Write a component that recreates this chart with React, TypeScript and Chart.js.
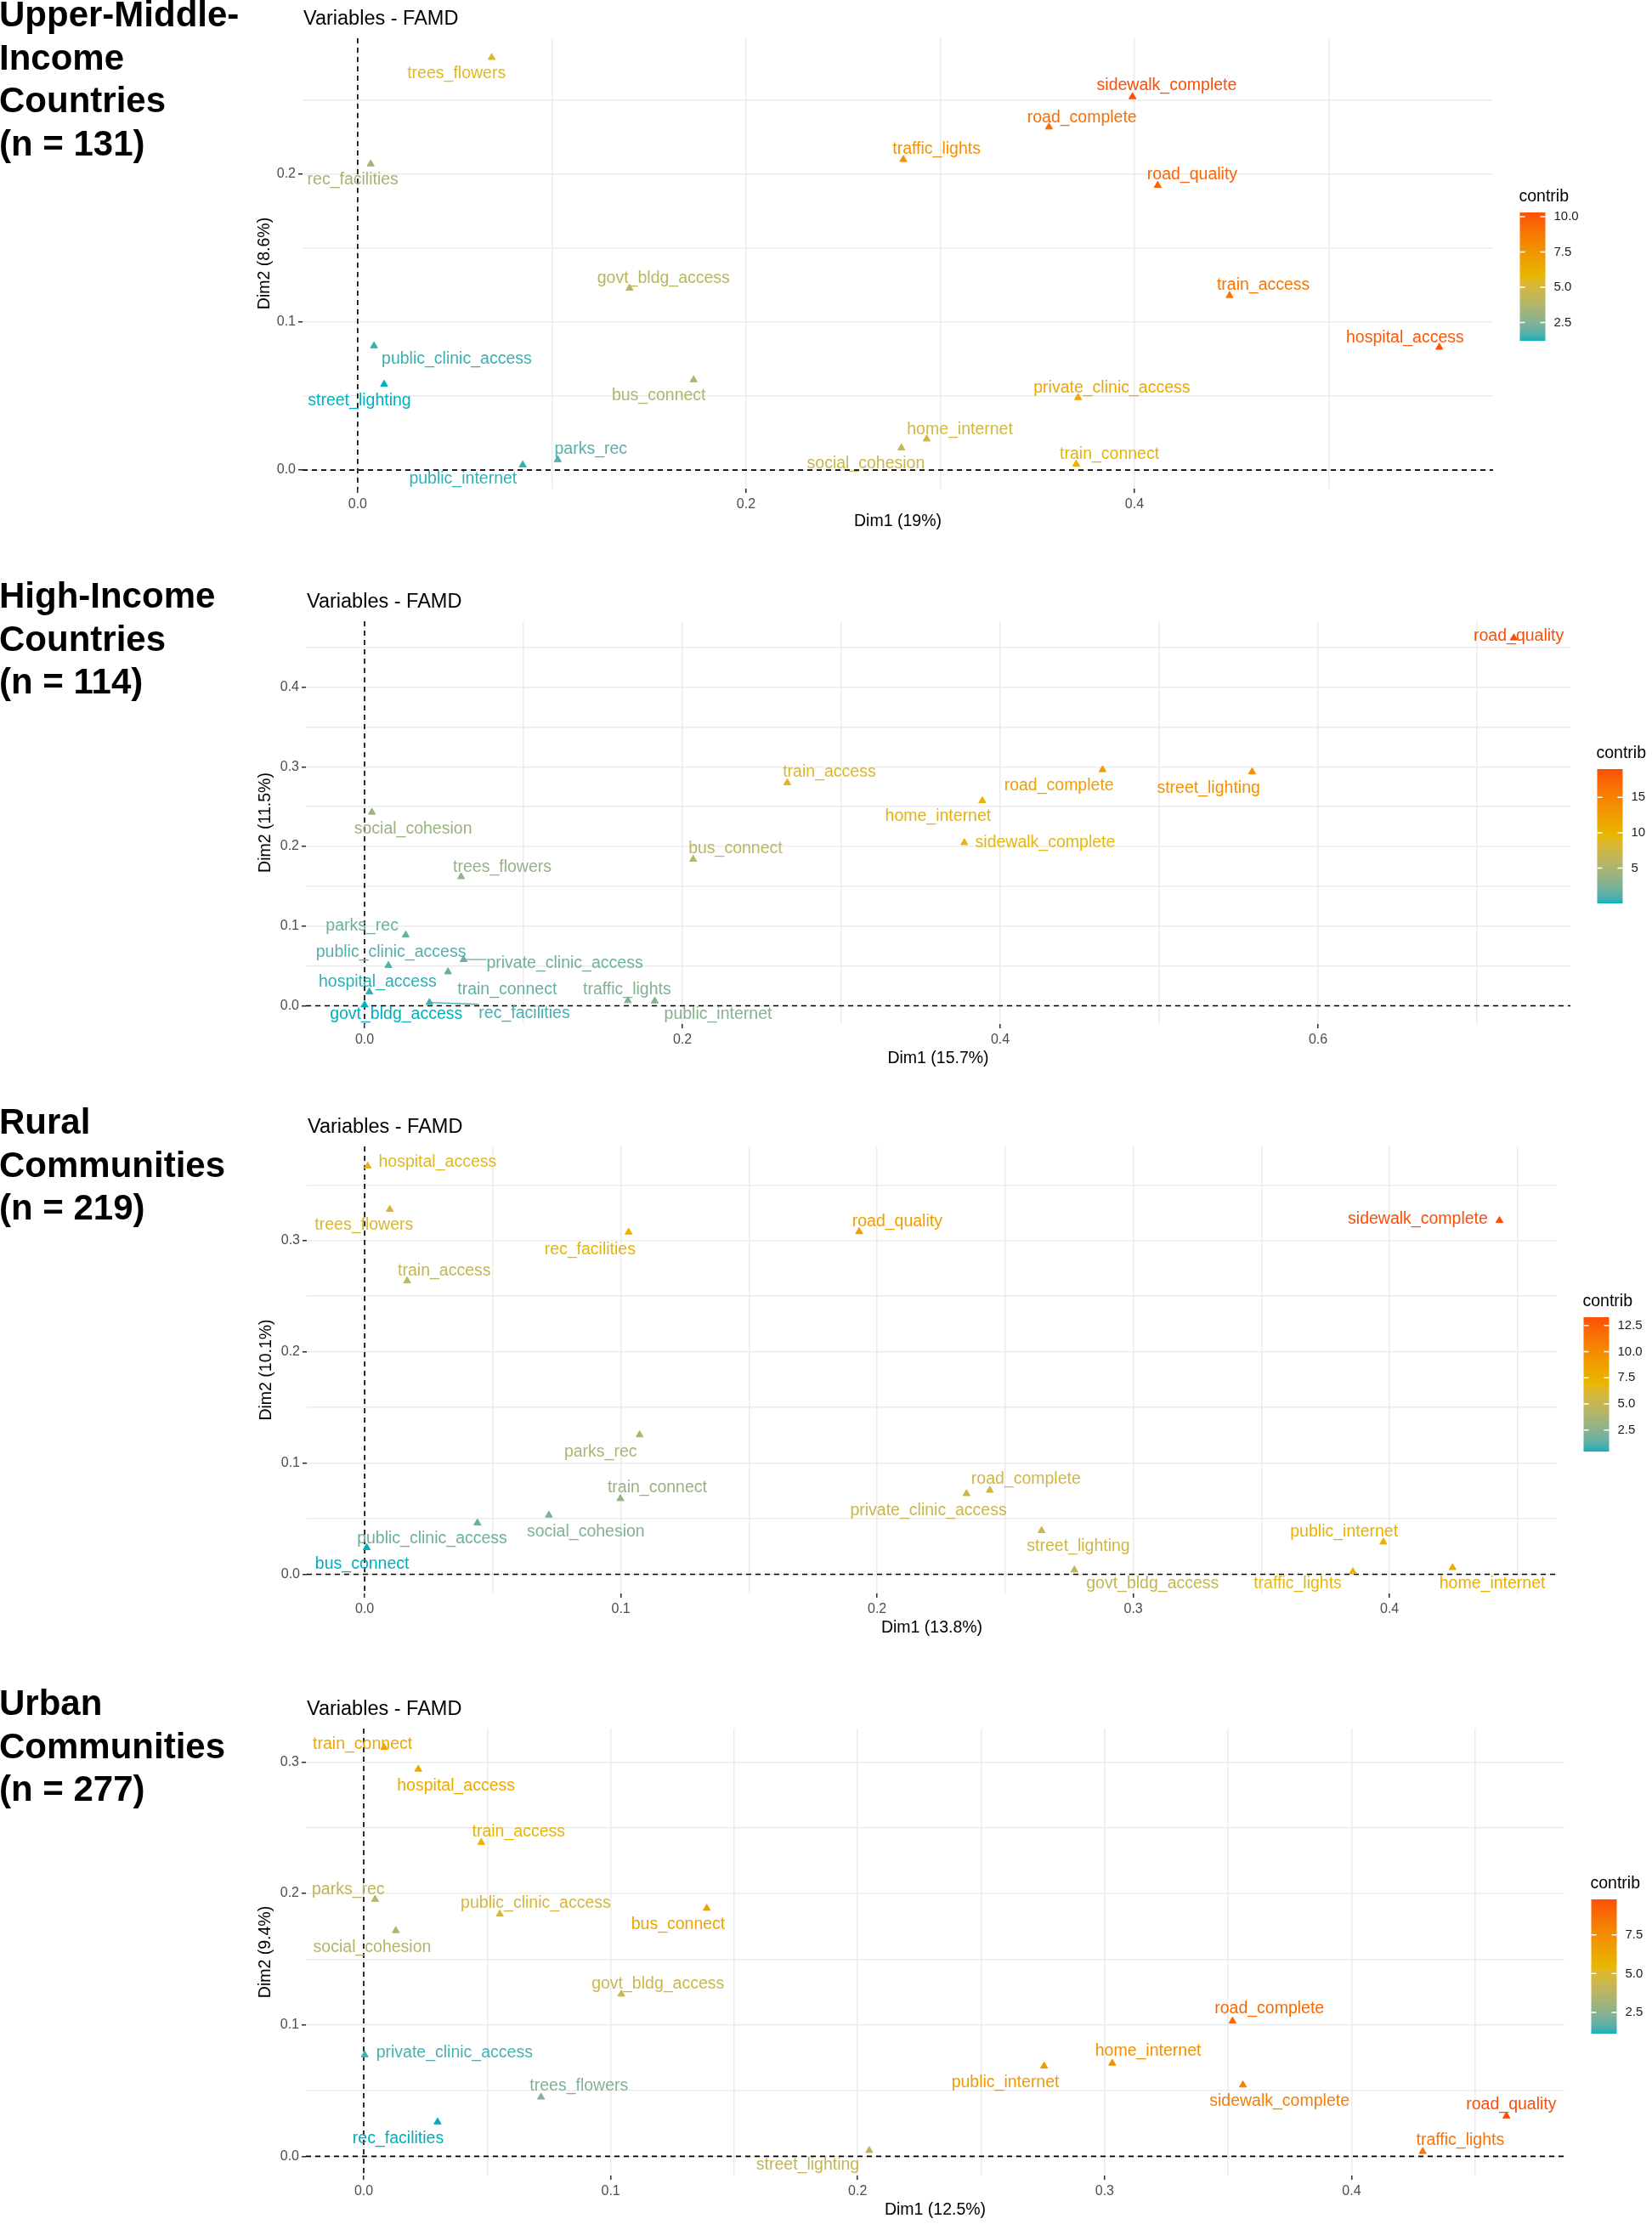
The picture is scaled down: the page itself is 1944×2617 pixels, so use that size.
import React, { useEffect, useRef } from 'react';
import { Chart, registerables } from 'chart.js';

Chart.register(...registerables);

const FONT = '"Liberation Sans", Arial, Helvetica, sans-serif';
Chart.defaults.font.family = FONT;
const GRADIENT_COLS = ['#00AFBB', '#E7B800', '#FC4E07'];

// ---------- Panel 1: Upper-Middle-Income Countries ----------
const umicTitle = ['Upper-Middle-', 'Income', 'Countries', '(n = 131)'];
const umicVars = ['trees_flowers', 'rec_facilities', 'govt_bldg_access', 'public_clinic_access', 'street_lighting', 'bus_connect', 'parks_rec', 'public_internet', 'social_cohesion', 'sidewalk_complete', 'road_complete', 'traffic_lights', 'road_quality', 'train_access', 'hospital_access', 'private_clinic_access', 'home_internet', 'train_connect'];
const umicDim1 = [0.069, 0.0067, 0.14, 0.0084, 0.0136, 0.173, 0.103, 0.085, 0.28, 0.399, 0.356, 0.281, 0.412, 0.449, 0.557, 0.371, 0.293, 0.37];
const umicDim2 = [0.279, 0.207, 0.123, 0.084, 0.058, 0.061, 0.007, 0.0035, 0.015, 0.2525, 0.232, 0.21, 0.1925, 0.118, 0.083, 0.049, 0.021, 0.004];
const umicContrib = [5.5, 3.35, 4.1, 1.45, 1.2, 3.7, 1.75, 1.4, 4.6, 10.3, 9.2, 7.7, 9.5, 8.9, 10.0, 6.6, 4.9, 5.9];
const umicXTicks = [0, 0.2, 0.4];
const umicYTicks = [0, 0.1, 0.2];
const umicXGrid = [0, 0.1, 0.2, 0.3, 0.4, 0.5];
const umicYGrid = [0, 0.05, 0.1, 0.15, 0.2, 0.25];
const umicLegendTicks = [2.5, 5.0, 7.5, 10.0];
const umicLabelDx = [-41.4, -21, 40, 97.3, -29, -41, 39, -70.3, -41.8, 40.3, 38.8, 39.1, 40.6, 39.7, -40.3, 39.7, 39.1, 39.2];
const umicLabelDy = [19.2, 19.2, -11, 15.5, 19.6, 18.4, -12.2, 17.1, 18.3, -13, -11, -12.2, -12.2, -12.2, -11, -11.4, -11.4, -11.4];

// ---------- Panel 2: High-Income Countries ----------
const hicTitle = ['High-Income', 'Countries', '(n = 114)'];
const hicVars = ['social_cohesion', 'trees_flowers', 'bus_connect', 'train_access', 'parks_rec', 'public_clinic_access', 'private_clinic_access', 'train_connect', 'hospital_access', 'govt_bldg_access', 'rec_facilities', 'traffic_lights', 'public_internet', 'home_internet', 'road_complete', 'street_lighting', 'sidewalk_complete', 'road_quality'];
const hicDim1 = [0.0046, 0.0607, 0.2068, 0.266, 0.0259, 0.015, 0.0623, 0.0525, 0.003, 0.0, 0.0408, 0.1657, 0.1826, 0.3887, 0.4644, 0.5585, 0.3774, 0.7232];
const hicDim2 = [0.243, 0.162, 0.184, 0.28, 0.0888, 0.0506, 0.058, 0.0426, 0.0173, 0.001, 0.004, 0.0064, 0.006, 0.2574, 0.2964, 0.2936, 0.2048, 0.4618];
const hicContrib = [4.0, 3.6, 6.2, 8.7, 1.8, 1.05, 1.9, 1.5, 0.33, 0.02, 0.72, 2.75, 3.0, 10.3, 12.2, 13.6, 9.3, 19.0];
const hicXTicks = [0, 0.2, 0.4, 0.6];
const hicYTicks = [0, 0.1, 0.2, 0.3, 0.4];
const hicXGrid = [0, 0.1, 0.2, 0.3, 0.4, 0.5, 0.6, 0.7];
const hicYGrid = [0, 0.05, 0.1, 0.15, 0.2, 0.25, 0.3, 0.35, 0.4, 0.45];
const hicLegendTicks = [5, 10, 15];
const hicLabelDx = [48.5, 48.5, 49.7, 49.5, -51.3, 3, 119, 69.6, 9.7, 37.2, 111.7, -1, 74.5, -52, -51.3, -51.3, 95.2, 5.7];
const hicLabelDy = [19.6, -11.3, -12, -12.4, -10.9, -15, 4.5, 20.7, -11.3, 11.3, 12.8, -13.2, 15.8, 18.8, 19.2, 19.2, 0, -1.9];

// ---------- Panel 3: Rural Communities ----------
const ruralTitle = ['Rural', 'Communities', '(n = 219)'];
const ruralVars = ['hospital_access', 'trees_flowers', 'rec_facilities', 'train_access', 'road_quality', 'parks_rec', 'train_connect', 'social_cohesion', 'public_clinic_access', 'bus_connect', 'sidewalk_complete', 'road_complete', 'private_clinic_access', 'street_lighting', 'govt_bldg_access', 'traffic_lights', 'public_internet', 'home_internet'];
const ruralDim1 = [0.0012, 0.0098, 0.103, 0.0166, 0.193, 0.1073, 0.0998, 0.0719, 0.044, 0.0008, 0.4429, 0.244, 0.2349, 0.2642, 0.277, 0.3857, 0.3976, 0.4246];
const ruralDim2 = [0.367, 0.328, 0.3076, 0.2637, 0.308, 0.1254, 0.068, 0.0532, 0.0462, 0.024, 0.318, 0.0755, 0.0725, 0.0393, 0.0039, 0.0024, 0.029, 0.006];
const ruralContrib = [6.4, 5.9, 7.1, 4.9, 8.7, 4.0, 2.9, 2.2, 1.6, 0.44, 13.3, 5.55, 5.3, 5.3, 4.9, 6.7, 7.4, 7.5];
const ruralXTicks = [0, 0.1, 0.2, 0.3, 0.4];
const ruralYTicks = [0, 0.1, 0.2, 0.3];
const ruralXGrid = [0, 0.05, 0.1, 0.15, 0.2, 0.25, 0.3, 0.35, 0.4, 0.45];
const ruralYGrid = [0, 0.05, 0.1, 0.15, 0.2, 0.25, 0.3, 0.35];
const ruralLegendTicks = [2.5, 5.0, 7.5, 10.0, 12.5];
const ruralLabelDx = [82.1, -30.4, -45.4, 43.6, 44.8, -45.9, 43.4, 43.4, -53.3, -5.4, -96, 42.5, -44.8, 43.3, 92, -65, -46.2, 46.8];
const ruralLabelDy = [-4.3, 19, 20.6, -11.9, -11.9, 20.6, -13, 20.2, 18.6, 19.8, -1.2, -13, 20.5, 18.6, 15.8, 13.8, -11.5, 18.6];

// ---------- Panel 4: Urban Communities ----------
const urbanTitle = ['Urban', 'Communities', '(n = 277)'];
const urbanVars = ['train_connect', 'hospital_access', 'train_access', 'parks_rec', 'public_clinic_access', 'bus_connect', 'social_cohesion', 'govt_bldg_access', 'private_clinic_access', 'trees_flowers', 'rec_facilities', 'street_lighting', 'road_complete', 'home_internet', 'public_internet', 'sidewalk_complete', 'road_quality', 'traffic_lights'];
const urbanDim1 = [0.0083, 0.0221, 0.0476, 0.0046, 0.0551, 0.1389, 0.013, 0.1043, 0.0004, 0.0718, 0.0299, 0.2047, 0.3518, 0.3031, 0.2755, 0.356, 0.4627, 0.4288];
const urbanDim2 = [0.311, 0.2945, 0.2388, 0.1955, 0.1843, 0.1887, 0.1717, 0.1234, 0.0772, 0.0451, 0.0262, 0.0045, 0.1029, 0.0709, 0.0688, 0.0543, 0.0307, 0.0037];
const urbanContrib = [6.3, 6.2, 5.65, 3.95, 4.7, 6.5, 3.6, 4.5, 1.5, 2.3, 1.12, 4.1, 9.0, 7.4, 6.8, 8.1, 9.8, 8.5];
const urbanXTicks = [0, 0.1, 0.2, 0.3, 0.4];
const urbanYTicks = [0, 0.1, 0.2, 0.3];
const urbanXGrid = [0, 0.05, 0.1, 0.15, 0.2, 0.25, 0.3, 0.35, 0.4, 0.45];
const urbanYGrid = [0, 0.05, 0.1, 0.15, 0.2, 0.25, 0.3];
const urbanLegendTicks = [2.5, 5.0, 7.5];
const urbanLabelDx = [-25.5, 44.4, 43.9, -31.6, 42.3, -33.7, -27.8, 43.1, 105.6, 44.6, -46.4, -72.4, 43.3, 42.2, -45.6, 43, 5.7, 44.2];
const urbanLabelDy = [-3.7, 20.3, -12.6, -11.8, -12.2, 19.1, 20.3, -12.2, -2.4, -13.4, 19.5, 17.1, -14.2, -13.8, 19.5, 19.5, -13, -12.6];

// ---------- colour helpers (Lab interpolation like ggplot2) ----------
function hexToRgb(hex: string): number[] {
  const n = parseInt(hex.slice(1), 16);
  return [(n >> 16) & 255, (n >> 8) & 255, n & 255];
}
function toLin(c: number) {
  const v = c / 255;
  return v <= 0.04045 ? v / 12.92 : Math.pow((v + 0.055) / 1.055, 2.4);
}
function fromLin(c: number) {
  const v = c <= 0.0031308 ? 12.92 * c : 1.055 * Math.pow(Math.max(c, 0), 1 / 2.4) - 0.055;
  return Math.round(Math.min(1, Math.max(0, v)) * 255);
}
function rgbToLab(rgb: number[]) {
  const [r, g, b] = rgb.map(toLin);
  const X = (0.4124 * r + 0.3576 * g + 0.1805 * b) / 0.95047;
  const Y = 0.2126 * r + 0.7152 * g + 0.0722 * b;
  const Z = (0.0193 * r + 0.1192 * g + 0.9505 * b) / 1.08883;
  const f = (t: number) => (t > 216 / 24389 ? Math.cbrt(t) : (24389 / 27 * t + 16) / 116);
  const fx = f(X), fy = f(Y), fz = f(Z);
  return [116 * fy - 16, 500 * (fx - fy), 200 * (fy - fz)];
}
function labToRgb(lab: number[]) {
  const [L, a, b] = lab;
  const fy = (L + 16) / 116, fx = fy + a / 500, fz = fy - b / 200;
  const finv = (t: number) => (t * t * t > 216 / 24389 ? t * t * t : (116 * t - 16) / (24389 / 27));
  const X = finv(fx) * 0.95047, Y = finv(fy), Z = finv(fz) * 1.08883;
  const r = 3.2406 * X - 1.5372 * Y - 0.4986 * Z;
  const g = -0.9689 * X + 1.8758 * Y + 0.0415 * Z;
  const bb = 0.0557 * X - 0.204 * Y + 1.057 * Z;
  return [fromLin(r), fromLin(g), fromLin(bb)];
}
const LABS = GRADIENT_COLS.map((h) => rgbToLab(hexToRgb(h)));
function gradColor(t: number) {
  const tt = Math.min(1, Math.max(0, t));
  const seg = tt <= 0.5 ? 0 : 1;
  const lt = (tt - seg * 0.5) / 0.5;
  const A = LABS[seg], B = LABS[seg + 1];
  const lab = [0, 1, 2].map((i) => A[i] + (B[i] - A[i]) * lt);
  const [r, g, b] = labToRgb(lab);
  return `rgb(${r},${g},${b})`;
}

type Geom = {
  canvasTop: number; canvasH: number; plotLeft: number; plotRight: number;
  plotTop: number; plotBottom: number; xTitleY: number; yTitleX: number;
  barH: number; barOffset: number;
};
type PanelSpec = {
  vars: string[]; dim1: number[]; dim2: number[]; contrib: number[];
  labelDx: number[]; labelDy: number[];
  xLimits: number[]; yLimits: number[];
  xGrid: number[]; yGrid: number[]; xTicks: number[]; yTicks: number[];
  xTitle: string; yTitle: string; legendTicks: number[]; legendDecimals: number;
  geom: Geom;
};

const PAGE_W = 1944;
const LABEL_SIZE = 19.5;
const SEGMENT_MIN = 20;

const panels: PanelSpec[] = [
  {
    vars: umicVars, dim1: umicDim1, dim2: umicDim2, contrib: umicContrib,
    labelDx: umicLabelDx, labelDy: umicLabelDy,
    xLimits: [-0.0284, 0.5847], yLimits: [-0.0126, 0.292],
    xGrid: umicXGrid, yGrid: umicYGrid, xTicks: umicXTicks, yTicks: umicYTicks,
    xTitle: 'Dim1 (19%)', yTitle: 'Dim2 (8.6%)', legendTicks: umicLegendTicks, legendDecimals: 1,
    geom: { canvasTop: 0, canvasH: 650, plotLeft: 356, plotRight: 1757, plotTop: 45, plotBottom: 575, xTitleY: 614, yTitleX: 312, barH: 151, barOffset: 60 },
  },
  {
    vars: hicVars, dim1: hicDim1, dim2: hicDim2, contrib: hicContrib,
    labelDx: hicLabelDx, labelDy: hicLabelDy,
    xLimits: [-0.0369, 0.7588], yLimits: [-0.023, 0.4828],
    xGrid: hicXGrid, yGrid: hicYGrid, xTicks: hicXTicks, yTicks: hicYTicks,
    xTitle: 'Dim1 (15.7%)', yTitle: 'Dim2 (11.5%)', legendTicks: hicLegendTicks, legendDecimals: 0,
    geom: { canvasTop: 655, canvasH: 620, plotLeft: 360, plotRight: 1848, plotTop: 731, plotBottom: 1205, xTitleY: 1246, yTitleX: 313, barH: 158, barOffset: 63 },
  },
  {
    vars: ruralVars, dim1: ruralDim1, dim2: ruralDim2, contrib: ruralContrib,
    labelDx: ruralLabelDx, labelDy: ruralLabelDy,
    xLimits: [-0.0226, 0.4653], yLimits: [-0.0172, 0.3846],
    xGrid: ruralXGrid, yGrid: ruralYGrid, xTicks: ruralXTicks, yTicks: ruralYTicks,
    xTitle: 'Dim1 (13.8%)', yTitle: 'Dim2 (10.1%)', legendTicks: ruralLegendTicks, legendDecimals: 1,
    geom: { canvasTop: 1280, canvasH: 660, plotLeft: 361, plotRight: 1832, plotTop: 1349, plotBottom: 1875, xTitleY: 1916, yTitleX: 314, barH: 158, barOffset: 62 },
  },
  {
    vars: urbanVars, dim1: urbanDim1, dim2: urbanDim2, contrib: urbanContrib,
    labelDx: urbanLabelDx, labelDy: urbanLabelDy,
    xLimits: [-0.0234, 0.4862], yLimits: [-0.0146, 0.3254],
    xGrid: urbanXGrid, yGrid: urbanYGrid, xTicks: urbanXTicks, yTicks: urbanYTicks,
    xTitle: 'Dim1 (12.5%)', yTitle: 'Dim2 (9.4%)', legendTicks: urbanLegendTicks, legendDecimals: 1,
    geom: { canvasTop: 1950, canvasH: 667, plotLeft: 360, plotRight: 1841, plotTop: 2034, plotBottom: 2560, xTitleY: 2601, yTitleX: 313, barH: 158, barOffset: 62 },
  },
];

const sideTitles = [
  { lines: umicTitle, top: -8 },
  { lines: hicTitle, top: 676 },
  { lines: ruralTitle, top: 1295 },
  { lines: urbanTitle, top: 1979 },
];

const isIn = (v: number, arr: number[]) => arr.some((m) => Math.abs(m - v) < 1e-9);

function makeOverlay(p: PanelSpec, colors: string[], cmin: number, cmax: number) {
  return {
    id: 'famdOverlay',
    beforeDatasetsDraw(chart: any) {
      const { ctx, chartArea: a, scales } = chart;
      const x0 = scales.x.getPixelForValue(0);
      const y0 = scales.y.getPixelForValue(0);
      ctx.save();
      ctx.strokeStyle = '#000';
      ctx.lineWidth = 1.6;
      ctx.setLineDash([6, 5]);
      ctx.beginPath();
      ctx.moveTo(a.left, y0);
      ctx.lineTo(a.right, y0);
      ctx.moveTo(x0, a.top);
      ctx.lineTo(x0, a.bottom);
      ctx.stroke();
      ctx.restore();
    },
    afterDatasetsDraw(chart: any) {
      const { ctx, scales } = chart;
      ctx.save();
      ctx.font = `${LABEL_SIZE}px ${FONT}`;
      ctx.textAlign = 'center';
      ctx.textBaseline = 'middle';
      p.vars.forEach((name, i) => {
        const ptx = scales.x.getPixelForValue(p.dim1[i]);
        const pty = scales.y.getPixelForValue(p.dim2[i]);
        const px = ptx + p.labelDx[i];
        const py = pty + p.labelDy[i];
        // repel-style connector when the label sits far from its point
        const hw = ctx.measureText(name).width / 2;
        const hh = LABEL_SIZE * 0.55;
        const nx = Math.min(Math.max(ptx, px - hw), px + hw);
        const ny = Math.min(Math.max(pty, py - hh), py + hh);
        const dist = Math.hypot(nx - ptx, ny - pty);
        if (dist > SEGMENT_MIN) {
          ctx.strokeStyle = colors[i];
          ctx.lineWidth = 1.3;
          ctx.beginPath();
          ctx.moveTo(ptx, pty);
          ctx.lineTo(nx, ny);
          ctx.stroke();
        }
        ctx.fillStyle = colors[i];
        ctx.fillText(name, px, py);
      });
      ctx.restore();
    },
    afterDraw(chart: any) {
      const { ctx, chartArea: a } = chart;
      ctx.save();
      // panel title
      ctx.fillStyle = '#000';
      ctx.font = `23.5px ${FONT}`;
      ctx.textAlign = 'left';
      ctx.textBaseline = 'middle';
      ctx.fillText('Variables - FAMD', a.left + 1, a.top - 22.5);
      // colour bar legend
      const barW = 30;
      const barH = p.geom.barH;
      const barLeft = a.right + 31.5;
      const barTop = (a.top + a.bottom) / 2 - p.geom.barOffset;
      for (let i = 0; i < barH; i++) {
        const t = 1 - (i + 0.5) / barH;
        ctx.fillStyle = gradColor(t);
        ctx.fillRect(barLeft, barTop + i, barW, 1.05);
      }
      ctx.strokeStyle = '#fff';
      ctx.lineWidth = 1.5;
      ctx.font = `15px ${FONT}`;
      ctx.textAlign = 'left';
      ctx.textBaseline = 'middle';
      p.legendTicks.forEach((v) => {
        const ty = barTop + barH - ((v - cmin) / (cmax - cmin)) * barH;
        ctx.beginPath();
        ctx.moveTo(barLeft, ty);
        ctx.lineTo(barLeft + 6, ty);
        ctx.moveTo(barLeft + barW - 6, ty);
        ctx.lineTo(barLeft + barW, ty);
        ctx.stroke();
        ctx.fillStyle = '#1a1a1a';
        ctx.fillText(v.toFixed(p.legendDecimals), barLeft + barW + 10, ty);
      });
      ctx.fillStyle = '#000';
      ctx.font = `19.5px ${FONT}`;
      ctx.fillText('contrib', barLeft - 1, barTop - 18);
      ctx.restore();
    },
  };
}

function Panel({ spec }: { spec: PanelSpec }) {
  const ref = useRef<HTMLCanvasElement | null>(null);
  const g = spec.geom;
  useEffect(() => {
    if (!ref.current) return;
    const cmin = Math.min(...spec.contrib);
    const cmax = Math.max(...spec.contrib);
    const colors = spec.contrib.map((c) => gradColor((c - cmin) / (cmax - cmin)));
    const points = spec.dim1.map((x, i) => ({ x, y: spec.dim2[i] }));
    const titleLH = 19.5 * 1.2;
    const padLeft = g.yTitleX - titleLH / 2;
    const yWidth = g.plotLeft - padLeft;
    const xHeight = g.xTitleY - g.plotBottom + titleLH / 2;
    const padTop = g.plotTop - g.canvasTop;
    const padRight = PAGE_W - g.plotRight;
    const padBottom = g.canvasTop + g.canvasH - g.plotBottom - xHeight;

    const chart = new Chart(ref.current, {
      type: 'scatter',
      data: {
        datasets: [
          {
            data: points,
            pointStyle: 'triangle',
            pointRadius: 4.8,
            pointHoverRadius: 4.8,
            pointBackgroundColor: colors,
            pointBorderColor: colors,
            pointBorderWidth: 1,
          },
        ],
      },
      options: {
        animation: false,
        responsive: false,
        maintainAspectRatio: false,
        events: [],
        layout: { padding: { left: padLeft, top: padTop, right: padRight, bottom: padBottom } },
        plugins: { legend: { display: false }, tooltip: { enabled: false }, title: { display: false } },
        scales: {
          x: {
            type: 'linear',
            position: 'bottom',
            min: spec.xLimits[0],
            max: spec.xLimits[1],
            afterBuildTicks: (s: any) => { s.ticks = spec.xGrid.map((v) => ({ value: v })); },
            afterFit: (s: any) => { s.height = xHeight; },
            ticks: {
              autoSkip: false,
              maxRotation: 0,
              minRotation: 0,
              padding: 4,
              color: '#4D4D4D',
              font: { size: 16 },
              callback: (v: any) => (isIn(Number(v), spec.xTicks) ? Number(v).toFixed(1) : ''),
            },
            grid: {
              color: '#EBEBEB',
              lineWidth: 1.5,
              drawTicks: true,
              tickLength: 5,
              tickWidth: 1.6,
              tickColor: (ctx: any) => (ctx.tick && isIn(ctx.tick.value, spec.xTicks) ? '#333333' : 'rgba(0,0,0,0)'),
            },
            border: { display: false },
            title: { display: true, text: spec.xTitle, color: '#000', font: { size: 19.5 }, padding: 0 },
          },
          y: {
            type: 'linear',
            position: 'left',
            min: spec.yLimits[0],
            max: spec.yLimits[1],
            afterBuildTicks: (s: any) => { s.ticks = spec.yGrid.map((v) => ({ value: v })); },
            afterFit: (s: any) => { s.width = yWidth; },
            ticks: {
              autoSkip: false,
              padding: 3,
              color: '#4D4D4D',
              font: { size: 16 },
              callback: (v: any) => (isIn(Number(v), spec.yTicks) ? Number(v).toFixed(1) : ''),
            },
            grid: {
              color: '#EBEBEB',
              lineWidth: 1.5,
              drawTicks: true,
              tickLength: 5,
              tickWidth: 1.6,
              tickColor: (ctx: any) => (ctx.tick && isIn(ctx.tick.value, spec.yTicks) ? '#333333' : 'rgba(0,0,0,0)'),
            },
            border: { display: false },
            title: { display: true, text: spec.yTitle, color: '#000', font: { size: 19.5 }, padding: 0 },
          },
        },
      } as any,
      plugins: [makeOverlay(spec, colors, cmin, cmax) as any],
    });
    return () => chart.destroy();
  }, [spec]);

  return (
    <canvas
      ref={ref}
      width={PAGE_W}
      height={g.canvasH}
      style={{ position: 'absolute', left: 0, top: g.canvasTop, width: PAGE_W, height: g.canvasH, display: 'block' }}
    />
  );
}

export default function App() {
  return (
    <div style={{ position: 'absolute', left: 0, top: 0, width: PAGE_W, height: 2617, background: '#fff', overflow: 'hidden' }}>
      {panels.map((p, i) => (
        <Panel key={i} spec={p} />
      ))}
      {sideTitles.map((t, i) => (
        <div
          key={'t' + i}
          style={{
            position: 'absolute',
            left: -1,
            top: t.top,
            font: `bold 42px ${FONT}`,
            lineHeight: '50.6px',
            color: '#000',
            whiteSpace: 'pre',
            zIndex: 2,
          }}
        >
          {t.lines.map((l, j) => (
            <div key={j}>{l}</div>
          ))}
        </div>
      ))}
    </div>
  );
}
